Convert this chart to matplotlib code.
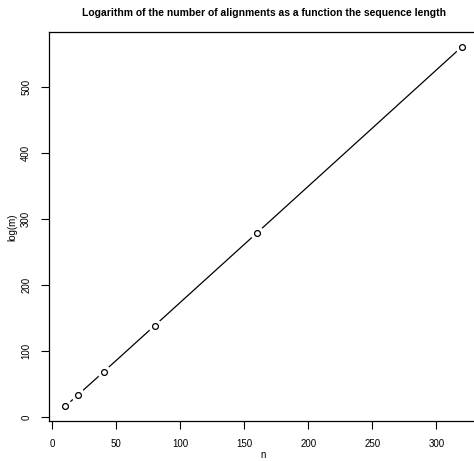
import matplotlib
matplotlib.use("Agg")
import matplotlib.pyplot as plt

# longueur des sequences et log du nombre d'alignements
n = [10, 20, 40, 80, 160, 320]
log_m = [15.9, 33.2, 68.1, 138.3, 278.9, 560.6]

xticks = [0, 50, 100, 150, 200, 250, 300]
yticks = [0, 100, 200, 300, 400, 500]

plt.rcParams['font.family'] = ['Liberation Sans', 'DejaVu Sans']

fig = plt.figure(figsize=(4.74, 4.61), dpi=100)
ax = fig.add_axes([0.1038, 0.0872, 0.9046, 0.843])

# type="b" a la R : segments interrompus autour des points
ax.plot(n, log_m, color='black', linewidth=0.9, zorder=1)
ax.plot(n, log_m, linestyle='none', marker='o', markersize=10,
        markerfacecolor='white', markeredgecolor='none', zorder=2)
ax.plot(n, log_m, linestyle='none', marker='o', markersize=4.2,
        markerfacecolor='white', markeredgecolor='black',
        markeredgewidth=0.9, zorder=3)

xr = max(n) - min(n)
yr = max(log_m) - min(log_m)
ax.set_xlim(min(n) - 0.04 * xr, max(n) + 0.04 * xr)
ax.set_ylim(min(log_m) - 0.04 * yr, max(log_m) + 0.04 * yr)

ax.set_xticks(xticks)
ax.set_yticks(yticks)
ax.set_yticklabels([str(v) for v in yticks], rotation=90, va='center')
ax.tick_params(direction='out', length=6, width=0.8, labelsize=7,
               pad=7, color='black')
for s in ax.spines.values():
    s.set_linewidth(0.9)

fig.text(0.5 * (0.1038 + 1.0084), 1 - 13 / 461,
         "Logarithm of the number of alignments as a function the sequence length",
         ha='center', va='center', fontsize=7.5, fontweight='bold')
fig.text(0.5 * (0.1038 + 1.0084), 1 - 455 / 461, "n",
         ha='center', va='center', fontsize=7)
fig.text(12 / 474, 1 - 227 / 461, "log(m)", rotation=90,
         ha='center', va='center', fontsize=7)

fig.savefig("out.png", dpi=100)
